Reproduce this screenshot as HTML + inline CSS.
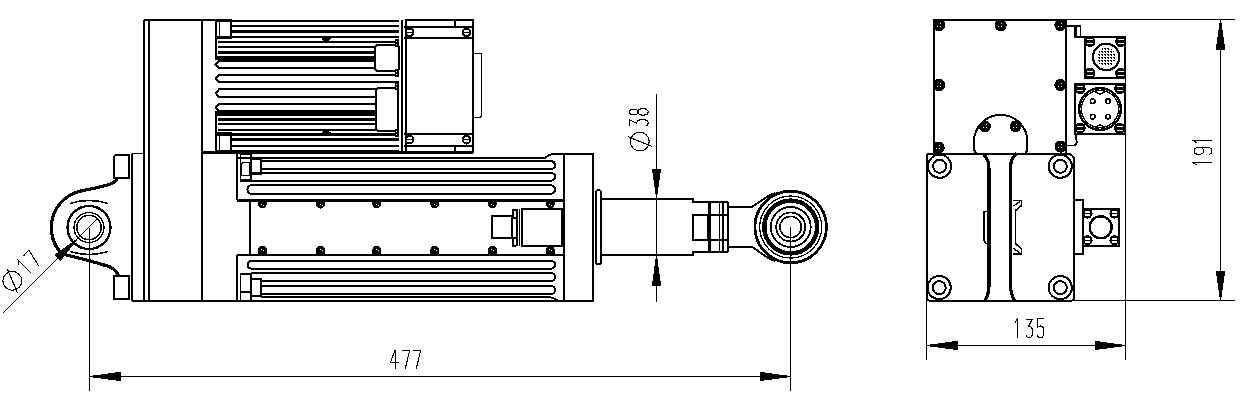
<!DOCTYPE html>
<html><head><meta charset="utf-8"><style>
html,body{margin:0;padding:0;background:#fff;width:1257px;height:410px;overflow:hidden;font-family:"Liberation Sans",sans-serif;}
svg{display:block;}
</style></head><body>
<svg width="1257" height="410" viewBox="0 0 1257 410">
<defs><pattern id="hatch" width="3" height="3" patternUnits="userSpaceOnUse"><rect x="0" y="0" width="3" height="3" fill="#fff"/><rect x="0" y="0" width="2" height="1" fill="#000"/><rect x="1" y="1" width="1" height="1" fill="#000"/></pattern></defs>
<rect x="0" y="0" width="1257" height="410" fill="#fff"/>
<g stroke="#000" fill="none" stroke-linecap="butt" stroke-linejoin="miter" shape-rendering="crispEdges">
<path d="M143.5,301 V22 Q143.5,20 145.5,20 H216" stroke-width="2" fill="none"/>
<line x1="149" y1="20" x2="149" y2="301" stroke-width="2"/>
<line x1="202" y1="20" x2="202" y2="301" stroke-width="2"/>
<line x1="131.8" y1="153.5" x2="131.8" y2="301" stroke-width="1.8"/>
<line x1="131.8" y1="153.5" x2="143.5" y2="153.5" stroke-width="1.8"/>
<line x1="132" y1="301" x2="593" y2="301" stroke-width="2.2"/>
<path d="M116,154.6 H129.2 V178 H114.2 V156.4 Z" stroke-width="1.8" fill="none"/>
<rect x="114" y="276" width="15.199999999999989" height="22.80000000000001" stroke-width="1.8" rx="0"/>
<path d="M117.5,179 C112,186 98,187 79,191.5 A37.5,37.5 0 0 0 62,254 C75,257 96,262 110,267 C114,269 117,271 118.5,276" stroke-width="3.2" fill="none"/>
<circle cx="89" cy="227.5" r="12.2" stroke-width="1.5" fill="none"/>
<circle cx="89" cy="227.5" r="15" stroke-width="1.3" fill="none"/>
<circle cx="89" cy="227.5" r="21.5" stroke-width="2.3" fill="none"/>
<path d="M70,203.5 Q89,197.5 108,203.5" stroke-width="1.5" fill="none"/>
<path d="M70,251.5 Q89,257.5 108,251.5" stroke-width="1.5" fill="none"/>
<line x1="2.5" y1="313.5" x2="98" y2="218" stroke-width="1"/>
<path d="M77.0,239.3 L55.4,254.8 L60.6,260.2 Z" fill="#000" stroke-width="1"/>
<line x1="89.5" y1="227.5" x2="89.5" y2="391" stroke-width="1"/>
<g transform="translate(11.6,293.4) rotate(-45)" stroke-width="1.1" fill="none"><circle cx="9.4" cy="-8.4" r="9.4"/><path d="M4.5,3.8 L14.4,-20.4"/><path transform="translate(25.6,0)" d="M0,-15.3 L2.5,-18.8 V0"/><path transform="translate(35.5,0)" d="M0,-17.3 V-18.3 H7.3 L3,0"/></g>
<line x1="216" y1="20" x2="216" y2="60" stroke-width="2"/>
<line x1="216" y1="111" x2="216" y2="152" stroke-width="2"/>
<rect x="216" y="20" width="15" height="17.5" stroke-width="2" rx="0"/>
<line x1="219.5" y1="20" x2="219.5" y2="37.5" stroke-width="1.5"/>
<rect x="216" y="133" width="15" height="18.5" stroke-width="2" rx="0"/>
<line x1="219.5" y1="133" x2="219.5" y2="151.5" stroke-width="1.5"/>
<line x1="216" y1="20.7" x2="399" y2="20.7" stroke-width="2.2"/>
<line x1="231" y1="25.8" x2="399" y2="25.8" stroke-width="2"/>
<line x1="231" y1="31.3" x2="399" y2="31.3" stroke-width="3"/>
<line x1="216" y1="36.8" x2="399" y2="36.8" stroke-width="2.4"/>
<line x1="218" y1="41.7" x2="399" y2="41.7" stroke-width="2"/>
<line x1="218" y1="46.6" x2="399" y2="46.6" stroke-width="2"/>
<line x1="218" y1="52.2" x2="399" y2="52.2" stroke-width="3"/>
<line x1="216" y1="58" x2="399" y2="58" stroke-width="3.2"/>
<line x1="216" y1="113.3" x2="399" y2="113.3" stroke-width="4.5"/>
<line x1="218" y1="119.2" x2="399" y2="119.2" stroke-width="3"/>
<line x1="218" y1="124.3" x2="399" y2="124.3" stroke-width="2"/>
<line x1="218" y1="129.7" x2="399" y2="129.7" stroke-width="2"/>
<line x1="216" y1="134.5" x2="399" y2="134.5" stroke-width="2.4"/>
<line x1="231" y1="139.7" x2="399" y2="139.7" stroke-width="3"/>
<line x1="231" y1="146" x2="399" y2="146" stroke-width="2"/>
<line x1="216" y1="151.6" x2="399" y2="151.6" stroke-width="3"/>
<path d="M399,60.8 H219 L215.8,64.5 L219,68.2 H399" stroke-width="2" fill="none"/>
<path d="M399,74.8 H219 L215.8,78.44999999999999 L219,82.1 H399" stroke-width="2" fill="none"/>
<path d="M399,89.4 H219 L215.8,93.2 L219,97 H399" stroke-width="2" fill="none"/>
<path d="M399,104 H219 L215.8,107.65 L219,111.3 H399" stroke-width="2" fill="none"/>
<path d="M322,37.8 H330 V39 Q326,42.5 322,39 Z" stroke-width="1" fill="#000"/>
<path d="M322,133.8 H330 V132.6 Q326,129 322,132.6 Z" stroke-width="1" fill="#000"/>
<path d="M377,44.5 H397 L398.8,46.5 V69 L397,71 H377 L375.2,69 V46.5 Z" stroke-width="2" fill="#fff"/>
<path d="M378,87.8 H396 L397.8,89.8 V129.4 L396,131.4 H378 L376.2,129.4 V89.8 Z" stroke-width="2" fill="#fff"/>
<rect x="394.5" y="38.8" width="4.5" height="8" fill="#000" stroke="none"/><rect x="396" y="40.8" width="1" height="1" fill="#fff" stroke="none"/><rect x="396" y="43.8" width="1" height="1" fill="#fff" stroke="none"/>
<rect x="394.5" y="68.6" width="4.5" height="8" fill="#000" stroke="none"/><rect x="396" y="70.6" width="1" height="1" fill="#fff" stroke="none"/><rect x="396" y="73.6" width="1" height="1" fill="#fff" stroke="none"/>
<rect x="394.5" y="82.3" width="4.5" height="8" fill="#000" stroke="none"/><rect x="396" y="84.3" width="1" height="1" fill="#fff" stroke="none"/><rect x="396" y="87.3" width="1" height="1" fill="#fff" stroke="none"/>
<rect x="394.5" y="128.8" width="4.5" height="8" fill="#000" stroke="none"/><rect x="396" y="130.8" width="1" height="1" fill="#fff" stroke="none"/><rect x="396" y="133.8" width="1" height="1" fill="#fff" stroke="none"/>
<line x1="401.8" y1="20" x2="401.8" y2="152" stroke-width="2.4"/>
<rect x="405.6" y="20" width="67.39999999999998" height="131.8" stroke-width="2.2" rx="0"/>
<line x1="404" y1="27" x2="473" y2="27" stroke-width="2"/>
<line x1="404" y1="37.5" x2="473" y2="37.5" stroke-width="2"/>
<line x1="404" y1="133.7" x2="473" y2="133.7" stroke-width="2"/>
<line x1="404" y1="145.7" x2="473" y2="145.7" stroke-width="2"/>
<line x1="455" y1="20" x2="455" y2="27" stroke-width="2"/>
<line x1="455" y1="145.7" x2="455" y2="151.8" stroke-width="2"/>
<circle cx="409.6" cy="32.3" r="3.8" stroke-width="2.2" fill="none"/>
<line x1="406.1" y1="32.3" x2="413.1" y2="32.3" stroke-width="1.2"/>
<circle cx="409.6" cy="139.6" r="3.8" stroke-width="2.2" fill="none"/>
<line x1="406.1" y1="139.6" x2="413.1" y2="139.6" stroke-width="1.2"/>
<circle cx="466.5" cy="32.3" r="3.8" stroke-width="2.2" fill="none"/>
<line x1="463.0" y1="32.3" x2="470.0" y2="32.3" stroke-width="1.2"/>
<circle cx="466.5" cy="139.6" r="3.8" stroke-width="2.2" fill="none"/>
<line x1="463.0" y1="139.6" x2="470.0" y2="139.6" stroke-width="1.2"/>
<path d="M473,53.3 H480 Q481.5,53.3 481.5,55 V115.5 Q481.5,117.2 480,117.2 H473" stroke-width="1.4" fill="none"/>
<line x1="202" y1="152" x2="473" y2="152" stroke-width="3"/>
<path d="M237,200.3 V153 M237,157.9 H545 Q550,153.6 556,153.6 H593" stroke-width="2" fill="none"/>
<rect x="563.5" y="153.6" width="29.5" height="147.20000000000002" stroke-width="2" rx="0"/>
<line x1="237" y1="200.6" x2="563.5" y2="200.6" stroke-width="2.3"/>
<rect x="240.4" y="153.9" width="11.0" height="25.599999999999994" stroke-width="1.8" rx="0"/>
<rect x="241.6" y="162.6" width="8.400000000000006" height="13.200000000000017" stroke-width="1.3" rx="2"/>
<rect x="251.4" y="157.5" width="9.499999999999972" height="16.900000000000006" stroke-width="2" rx="0"/>
<line x1="251.4" y1="159.5" x2="260.9" y2="159.5" stroke-width="1.2"/>
<line x1="261" y1="161.2" x2="550" y2="161.2" stroke-width="2"/>
<line x1="261" y1="169.2" x2="550" y2="169.2" stroke-width="2"/>
<path d="M550,161.2 Q555,161.2 555,165.2 Q555,169.2 550,169.2" stroke-width="2" fill="none"/>
<line x1="251.4" y1="172.9" x2="550" y2="172.9" stroke-width="2"/>
<line x1="239.6" y1="180.7" x2="550" y2="180.7" stroke-width="2"/>
<path d="M550,172.9 Q555,172.9 555,176.8 Q555,180.7 550,180.7" stroke-width="2" fill="none"/>
<path d="M555,185.3 Q555,185.3 555,185.3" stroke-width="2" fill="none"/>
<path d="M550,185.3 H252 Q247.5,185.3 247.5,189.5 Q247.5,193.8 252,193.8 H550 Q555,193.8 555,189.5 Q555,185.3 550,185.3" stroke-width="2" fill="none"/>
<line x1="250" y1="200.3" x2="250" y2="254.5" stroke-width="2"/>
<line x1="237" y1="254.5" x2="563.5" y2="254.5" stroke-width="2"/>
<line x1="237" y1="254.5" x2="237" y2="301" stroke-width="1.8"/>
<path d="M550,260.8 H252 Q247.7,260.8 247.7,264.7 Q247.7,268.7 252,268.7 H550 Q555,268.7 555,264.7 Q555,260.8 550,260.8" stroke-width="2" fill="none"/>
<line x1="251.4" y1="272.8" x2="550" y2="272.8" stroke-width="2"/>
<line x1="261" y1="281.3" x2="550" y2="281.3" stroke-width="2"/>
<path d="M550,272.8 Q555,272.8 555,277 Q555,281.3 550,281.3" stroke-width="2" fill="none"/>
<line x1="261" y1="285.8" x2="550" y2="285.8" stroke-width="2"/>
<line x1="261" y1="294.3" x2="550" y2="294.3" stroke-width="2"/>
<path d="M550,285.8 Q555,285.8 555,290 Q555,294.3 550,294.3" stroke-width="2" fill="none"/>
<path d="M261,296.5 H546 Q553,297 558,300.8" stroke-width="2" fill="none"/>
<rect x="240.4" y="274.3" width="11.0" height="26.30000000000001" stroke-width="1.8" rx="0"/>
<line x1="240.4" y1="291.9" x2="251.4" y2="291.9" stroke-width="1.8"/>
<rect x="251.4" y="279.4" width="9.499999999999972" height="16.100000000000023" stroke-width="2" rx="0"/>
<path d="M258.4,201 V203.5 A4,4.5 0 0 0 266.4,203.5 V201 Z" stroke-width="1" fill="#000"/>
<rect x="261.4" y="204" width="1" height="1" fill="#fff" stroke="none"/><rect x="263.4" y="205" width="1" height="1" fill="#fff" stroke="none"/>
<path d="M258.4,253.8 V250.5 A4,4.5 0 0 1 266.4,250.5 V253.8 Z" stroke-width="1" fill="#000"/>
<rect x="261.4" y="249" width="1" height="1" fill="#fff" stroke="none"/><rect x="263.4" y="250" width="1" height="1" fill="#fff" stroke="none"/>
<path d="M316.5,201 V203.5 A4,4.5 0 0 0 324.5,203.5 V201 Z" stroke-width="1" fill="#000"/>
<rect x="319.5" y="204" width="1" height="1" fill="#fff" stroke="none"/><rect x="321.5" y="205" width="1" height="1" fill="#fff" stroke="none"/>
<path d="M316.5,253.8 V250.5 A4,4.5 0 0 1 324.5,250.5 V253.8 Z" stroke-width="1" fill="#000"/>
<rect x="319.5" y="249" width="1" height="1" fill="#fff" stroke="none"/><rect x="321.5" y="250" width="1" height="1" fill="#fff" stroke="none"/>
<path d="M372.7,201 V203.5 A4,4.5 0 0 0 380.7,203.5 V201 Z" stroke-width="1" fill="#000"/>
<rect x="375.7" y="204" width="1" height="1" fill="#fff" stroke="none"/><rect x="377.7" y="205" width="1" height="1" fill="#fff" stroke="none"/>
<path d="M372.7,253.8 V250.5 A4,4.5 0 0 1 380.7,250.5 V253.8 Z" stroke-width="1" fill="#000"/>
<rect x="375.7" y="249" width="1" height="1" fill="#fff" stroke="none"/><rect x="377.7" y="250" width="1" height="1" fill="#fff" stroke="none"/>
<path d="M430.8,201 V203.5 A4,4.5 0 0 0 438.8,203.5 V201 Z" stroke-width="1" fill="#000"/>
<rect x="433.8" y="204" width="1" height="1" fill="#fff" stroke="none"/><rect x="435.8" y="205" width="1" height="1" fill="#fff" stroke="none"/>
<path d="M430.8,253.8 V250.5 A4,4.5 0 0 1 438.8,250.5 V253.8 Z" stroke-width="1" fill="#000"/>
<rect x="433.8" y="249" width="1" height="1" fill="#fff" stroke="none"/><rect x="435.8" y="250" width="1" height="1" fill="#fff" stroke="none"/>
<path d="M488.4,201 V203.5 A4,4.5 0 0 0 496.4,203.5 V201 Z" stroke-width="1" fill="#000"/>
<rect x="491.4" y="204" width="1" height="1" fill="#fff" stroke="none"/><rect x="493.4" y="205" width="1" height="1" fill="#fff" stroke="none"/>
<path d="M488.4,253.8 V250.5 A4,4.5 0 0 1 496.4,250.5 V253.8 Z" stroke-width="1" fill="#000"/>
<rect x="491.4" y="249" width="1" height="1" fill="#fff" stroke="none"/><rect x="493.4" y="250" width="1" height="1" fill="#fff" stroke="none"/>
<path d="M546.3,201 V203.5 A4,4.5 0 0 0 554.3,203.5 V201 Z" stroke-width="1" fill="#000"/>
<rect x="549.3" y="204" width="1" height="1" fill="#fff" stroke="none"/><rect x="551.3" y="205" width="1" height="1" fill="#fff" stroke="none"/>
<path d="M546.3,253.8 V250.5 A4,4.5 0 0 1 554.3,250.5 V253.8 Z" stroke-width="1" fill="#000"/>
<rect x="549.3" y="249" width="1" height="1" fill="#fff" stroke="none"/><rect x="551.3" y="250" width="1" height="1" fill="#fff" stroke="none"/>
<rect x="521.8" y="209" width="40.200000000000045" height="37.19999999999999" stroke-width="2.4" rx="0"/>
<line x1="516.8" y1="209" x2="516.8" y2="246.2" stroke-width="1.4"/>
<line x1="519.2" y1="209" x2="519.2" y2="246.2" stroke-width="1.2"/>
<path d="M516.3,209.6 H512.5 V217.7 H516.3" stroke-width="2" fill="none"/>
<path d="M516.3,237.5 H512.5 V245.5 H516.3" stroke-width="2" fill="none"/>
<rect x="492.4" y="216.2" width="19.100000000000023" height="22.0" stroke-width="2" rx="0"/>
<rect x="596" y="190.3" width="5" height="74.0" stroke-width="1.8" rx="2"/>
<path d="M601,198.9 H693 V201.8 H728.2" stroke-width="2" fill="none"/>
<path d="M601,254.8 H693 V252 H728.2" stroke-width="2" fill="none"/>
<rect x="693" y="215" width="15.399999999999977" height="25" stroke-width="2" rx="0"/>
<line x1="708.4" y1="215" x2="728.2" y2="215" stroke-width="1.5"/>
<line x1="708.4" y1="240" x2="728.2" y2="240" stroke-width="1.5"/>
<line x1="709.7" y1="201.8" x2="709.7" y2="252" stroke-width="2.6"/>
<line x1="719.3" y1="201.8" x2="719.3" y2="252" stroke-width="1.4"/>
<line x1="723" y1="201.8" x2="723" y2="252" stroke-width="1.4"/>
<line x1="728.2" y1="201.8" x2="728.2" y2="252" stroke-width="2"/>
<path d="M728.2,206.7 H752.3 C760,202 766,196 775,193" stroke-width="2" fill="none"/>
<path d="M728.2,247 H752.3 C760,252 766,258 775,261" stroke-width="2" fill="none"/>
<circle cx="790.7" cy="227" r="35.8" stroke-width="2.8" fill="none"/>
<circle cx="790.7" cy="227" r="31" stroke-width="1.3" fill="none"/>
<circle cx="790.7" cy="227" r="26.4" stroke-width="4.4" fill="none"/>
<circle cx="790.7" cy="227" r="20" stroke-width="1.8" fill="none"/>
<circle cx="790.7" cy="227" r="14.5" stroke-width="1.8" fill="none"/>
<circle cx="790.7" cy="227" r="10.7" stroke-width="1.6" fill="none"/>
<line x1="790.5" y1="227" x2="790.5" y2="391" stroke-width="1"/>
<line x1="656.5" y1="94" x2="656.5" y2="302" stroke-width="1"/>
<path d="M656.5,197.5 L660.6,169.0 L652.4,169.0 Z" fill="#000" stroke-width="1"/>
<path d="M656.5,255.5 L652.4,285.5 L660.6,285.5 Z" fill="#000" stroke-width="1"/>
<g transform="translate(648.2,151) rotate(-90)" stroke-width="1.1" fill="none"><circle cx="9.4" cy="-8.4" r="9.4"/><path d="M4.5,3.8 L14.4,-20.4"/><path transform="translate(24.8,0)" d="M0,-18.3 H6.2 L2.8,-11.5 Q6.6,-11.5 6.6,-5.8 Q6.6,0 3.3,0 Q0.6,0 0,-2.6"/><path transform="translate(35.6,0)" d="M3.5,-18.8 C7.3,-18.8 7.3,-10.3 3.5,-10.3 C-0.3,-10.3 -0.3,-18.8 3.5,-18.8 Z M3.5,-10.3 C7.8,-10.3 7.8,0 3.5,0 C-0.8,0 -0.8,-10.3 3.5,-10.3 Z"/></g>
<line x1="89" y1="376.5" x2="790.6" y2="376.5" stroke-width="1"/>
<path d="M89.4,376.5 L120.0,380.6 L120.0,372.4 Z" fill="#000" stroke-width="1"/>
<path d="M790.5,376.5 L760.0,372.4 L760.0,380.6 Z" fill="#000" stroke-width="1"/>
<g transform="translate(0,368.6)" stroke-width="1.1" fill="none"><path transform="translate(390.2,0)" d="M5,0 V-18.8 L0.3,-6.3 H8.8"/><path transform="translate(402.3,0)" d="M0,-17.3 V-18.3 H7.3 L3,0"/><path transform="translate(413.3,0)" d="M0,-17.3 V-18.3 H7.3 L3,0"/></g>
<rect x="933.7" y="19.7" width="132.39999999999986" height="133.9" stroke-width="2" rx="0"/>
<line x1="1066" y1="19.5" x2="1235" y2="19.5" stroke-width="1"/>
<circle cx="939" cy="25" r="5.6" stroke-width="1" fill="#000"/>
<rect x="937" y="26" width="1" height="1" fill="#fff" stroke="none"/><rect x="940" y="26" width="1" height="1" fill="#fff" stroke="none"/><rect x="940" y="23" width="1" height="1" fill="#fff" stroke="none"/>
<circle cx="1000.6" cy="25.3" r="5.6" stroke-width="1" fill="#000"/>
<rect x="998" y="26" width="1" height="1" fill="#fff" stroke="none"/><rect x="1001" y="26" width="1" height="1" fill="#fff" stroke="none"/><rect x="1001" y="23" width="1" height="1" fill="#fff" stroke="none"/>
<circle cx="1060.4" cy="25" r="5.6" stroke-width="1" fill="#000"/>
<rect x="1058" y="26" width="1" height="1" fill="#fff" stroke="none"/><rect x="1061" y="26" width="1" height="1" fill="#fff" stroke="none"/><rect x="1061" y="23" width="1" height="1" fill="#fff" stroke="none"/>
<circle cx="939" cy="85" r="5.6" stroke-width="1" fill="#000"/>
<rect x="937" y="86" width="1" height="1" fill="#fff" stroke="none"/><rect x="940" y="86" width="1" height="1" fill="#fff" stroke="none"/><rect x="940" y="83" width="1" height="1" fill="#fff" stroke="none"/>
<circle cx="1060.4" cy="85" r="5.6" stroke-width="1" fill="#000"/>
<rect x="1058" y="86" width="1" height="1" fill="#fff" stroke="none"/><rect x="1061" y="86" width="1" height="1" fill="#fff" stroke="none"/><rect x="1061" y="83" width="1" height="1" fill="#fff" stroke="none"/>
<circle cx="938.6" cy="147.6" r="5.6" stroke-width="1" fill="#000"/>
<rect x="936" y="148" width="1" height="1" fill="#fff" stroke="none"/><rect x="939" y="148" width="1" height="1" fill="#fff" stroke="none"/><rect x="939" y="145" width="1" height="1" fill="#fff" stroke="none"/>
<circle cx="1060.6" cy="146.6" r="5.6" stroke-width="1" fill="#000"/>
<rect x="1058" y="147" width="1" height="1" fill="#fff" stroke="none"/><rect x="1061" y="147" width="1" height="1" fill="#fff" stroke="none"/><rect x="1061" y="144" width="1" height="1" fill="#fff" stroke="none"/>
<path d="M1066,26.2 H1075.5 V37.3 H1085" stroke-width="2" fill="none"/>
<rect x="1074.6" y="26.2" width="6.0" height="11.099999999999998" stroke-width="1.6" rx="0"/>
<rect x="1085.4" y="37.3" width="39.799999999999955" height="40.400000000000006" stroke-width="2" rx="0"/>
<circle cx="1090" cy="41.6" r="5" stroke-width="1" fill="#000"/>
<rect x="1087" y="39" width="6" height="1" fill="#fff" stroke="none"/><rect x="1087" y="43" width="6" height="1" fill="#fff" stroke="none"/>
<circle cx="1090" cy="73.2" r="5" stroke-width="1" fill="#000"/>
<rect x="1087" y="71" width="6" height="1" fill="#fff" stroke="none"/><rect x="1087" y="75" width="6" height="1" fill="#fff" stroke="none"/>
<circle cx="1120.7" cy="41.6" r="5" stroke-width="1" fill="#000"/>
<rect x="1117.7" y="39" width="6" height="1" fill="#fff" stroke="none"/><rect x="1117.7" y="43" width="6" height="1" fill="#fff" stroke="none"/>
<circle cx="1120.7" cy="73.2" r="5" stroke-width="1" fill="#000"/>
<rect x="1117.7" y="71" width="6" height="1" fill="#fff" stroke="none"/><rect x="1117.7" y="75" width="6" height="1" fill="#fff" stroke="none"/>
<circle cx="1106.2" cy="57" r="13.2" stroke-width="2.2" fill="none"/>
<circle cx="1106.2" cy="57" r="9.5" fill="url(#hatch)" stroke="none"/>
<rect x="1074.8" y="83.6" width="50.40000000000009" height="50.5" stroke-width="2.2" rx="0"/>
<circle cx="1080.2" cy="88.7" r="5" stroke-width="1" fill="#000"/>
<rect x="1077.2" y="86" width="6" height="1" fill="#fff" stroke="none"/><rect x="1077.2" y="90" width="6" height="1" fill="#fff" stroke="none"/>
<circle cx="1080.2" cy="128.2" r="5" stroke-width="1" fill="#000"/>
<rect x="1077.2" y="126" width="6" height="1" fill="#fff" stroke="none"/><rect x="1077.2" y="130" width="6" height="1" fill="#fff" stroke="none"/>
<circle cx="1119.7" cy="88.7" r="5" stroke-width="1" fill="#000"/>
<rect x="1116.7" y="86" width="6" height="1" fill="#fff" stroke="none"/><rect x="1116.7" y="90" width="6" height="1" fill="#fff" stroke="none"/>
<circle cx="1119.7" cy="128.2" r="5" stroke-width="1" fill="#000"/>
<rect x="1116.7" y="126" width="6" height="1" fill="#fff" stroke="none"/><rect x="1116.7" y="130" width="6" height="1" fill="#fff" stroke="none"/>
<circle cx="1100" cy="109" r="20.8" stroke-width="2.4" fill="none"/>
<circle cx="1100" cy="109" r="18.6" stroke-width="1.3" fill="none"/>
<circle cx="1092.7" cy="101.2" r="2.3" stroke-width="1.6" fill="none"/>
<circle cx="1108" cy="101.2" r="2.3" stroke-width="1.6" fill="none"/>
<circle cx="1092.7" cy="116.6" r="2.3" stroke-width="1.6" fill="none"/>
<circle cx="1108" cy="116.6" r="2.3" stroke-width="1.6" fill="none"/>
<path d="M1096,92 Q1100,96 1104,92" stroke-width="1.5" fill="none"/>
<path d="M1096,127 Q1100,123 1104,127" stroke-width="1.5" fill="none"/>
<path d="M1066,145.6 H1074 Q1078,143.5 1076.5,140 Q1075,136.5 1077,134" stroke-width="1.6" fill="none"/>
<line x1="1125.5" y1="77" x2="1125.5" y2="360" stroke-width="1"/>
<path d="M976,153.6 Q974,151 974,147 V141.6 A26.7,26.7 0 0 1 1027.4,141.6 V147 Q1027.4,151 1025.4,153.6" stroke-width="2" fill="none"/>
<circle cx="985" cy="126.4" r="5.4" stroke-width="1" fill="#000"/>
<rect x="983" y="127" width="1" height="1" fill="#fff" stroke="none"/><rect x="986" y="127" width="1" height="1" fill="#fff" stroke="none"/><rect x="986" y="124" width="1" height="1" fill="#fff" stroke="none"/>
<circle cx="1015.6" cy="126.4" r="5.4" stroke-width="1" fill="#000"/>
<rect x="1013" y="127" width="1" height="1" fill="#fff" stroke="none"/><rect x="1016" y="127" width="1" height="1" fill="#fff" stroke="none"/><rect x="1016" y="124" width="1" height="1" fill="#fff" stroke="none"/>
<path d="M930,153.6 H1067 Q1074,154 1074,161 V297.7 Q1074,300.7 1071,300.7 H930 Q927,300.7 927,297.7 V156.6 Q927,153.6 930,153.6 Z" stroke-width="2" fill="none"/>
<circle cx="939.6" cy="166.3" r="11.6" stroke-width="2" fill="none"/>
<circle cx="939.6" cy="166.3" r="6.5" stroke-width="2" fill="none"/>
<circle cx="1060.3" cy="166.3" r="11.6" stroke-width="2" fill="none"/>
<circle cx="1060.3" cy="166.3" r="6.5" stroke-width="2" fill="none"/>
<circle cx="939.2" cy="287.6" r="11.6" stroke-width="2" fill="none"/>
<circle cx="939.2" cy="287.6" r="6.5" stroke-width="2" fill="none"/>
<circle cx="1060.3" cy="287.6" r="11.6" stroke-width="2" fill="none"/>
<circle cx="1060.3" cy="287.6" r="6.5" stroke-width="2" fill="none"/>
<path d="M983,153.6 C988,158 989,163 989,172 V285 C989,293 987,297 985,300.7" stroke-width="3.2" fill="none"/>
<path d="M1016.5,153.6 C1011,158 1010.5,163 1010.5,172 V285 C1010.5,293 1012.5,297 1014.5,300.7" stroke-width="3.2" fill="none"/>
<path d="M987,211.3 H984.2 V241 L986.5,243.7" stroke-width="1.5" fill="none"/>
<path d="M1013,200.5 H1021.5 V205.5 L1015.5,210.5 V243.5 L1021.5,249 V254 H1013" stroke-width="1.6" fill="none"/>
<line x1="1013.5" y1="206" x2="1020" y2="201.5" stroke-width="1.3"/>
<line x1="1013.5" y1="248.5" x2="1020" y2="253" stroke-width="1.3"/>
<path d="M1074,200.4 H1082.7 V253.5 H1074" stroke-width="2" fill="none"/>
<rect x="1082.7" y="209.1" width="36.200000000000045" height="36.80000000000001" stroke-width="2.2" rx="0"/>
<circle cx="1087.5" cy="213.5" r="4" stroke-width="2.2" fill="none"/>
<line x1="1083.7" y1="213.5" x2="1091.3" y2="213.5" stroke-width="1.2"/>
<circle cx="1087.5" cy="240.4" r="4" stroke-width="2.2" fill="none"/>
<line x1="1083.7" y1="240.4" x2="1091.3" y2="240.4" stroke-width="1.2"/>
<circle cx="1114.5" cy="213.5" r="4" stroke-width="2.2" fill="none"/>
<line x1="1110.7" y1="213.5" x2="1118.3" y2="213.5" stroke-width="1.2"/>
<circle cx="1114.5" cy="240.4" r="4" stroke-width="2.2" fill="none"/>
<line x1="1110.7" y1="240.4" x2="1118.3" y2="240.4" stroke-width="1.2"/>
<circle cx="1100.7" cy="227.3" r="11" stroke-width="2.4" fill="none"/>
<line x1="1074" y1="300.5" x2="1235" y2="300.5" stroke-width="1"/>
<line x1="926.5" y1="300" x2="926.5" y2="359.5" stroke-width="1"/>
<line x1="926.5" y1="345.5" x2="1125.3" y2="345.5" stroke-width="1"/>
<path d="M926.5,345.5 L957.0,349.6 L957.0,341.4 Z" fill="#000" stroke-width="1"/>
<path d="M1125.3,345.5 L1095.0,341.4 L1095.0,349.6 Z" fill="#000" stroke-width="1"/>
<g transform="translate(0,337.6)" stroke-width="1.1" fill="none"><path transform="translate(1015.1,0)" d="M0,-15.3 L2.5,-18.8 V0"/><path transform="translate(1026,0)" d="M0,-18.3 H6.2 L2.8,-11.5 Q6.6,-11.5 6.6,-5.8 Q6.6,0 3.3,0 Q0.6,0 0,-2.6"/><path transform="translate(1037.3,0)" d="M6.2,-18.8 H0.6 V-10.6 Q1.6,-11.6 3.4,-11.6 Q6.6,-11.6 6.6,-5.8 Q6.6,0 3.3,0 Q0.6,0 0,-2.6"/></g>
<line x1="1220.5" y1="19.1" x2="1220.5" y2="300.7" stroke-width="1"/>
<path d="M1220.5,19.5 L1216.3,49.0 L1224.7,49.0 Z" fill="#000" stroke-width="1"/>
<path d="M1220.5,300.5 L1224.7,271.0 L1216.3,271.0 Z" fill="#000" stroke-width="1"/>
<g transform="translate(1211.9,165.2) rotate(-90)" stroke-width="1.1" fill="none"><path transform="translate(0,0)" d="M0,-15.3 L2.5,-18.8 V0"/><path transform="translate(10.8,0)" d="M7,-13 C7,-6.5 0,-6.5 0,-13 C0,-19.5 7,-19.5 7,-13 V-5 Q7,0 3.5,0 Q0.6,0 0,-2.6"/><path transform="translate(22.4,0)" d="M0,-15.3 L2.5,-18.8 V0"/></g>
</g>
</svg>
</body></html>
